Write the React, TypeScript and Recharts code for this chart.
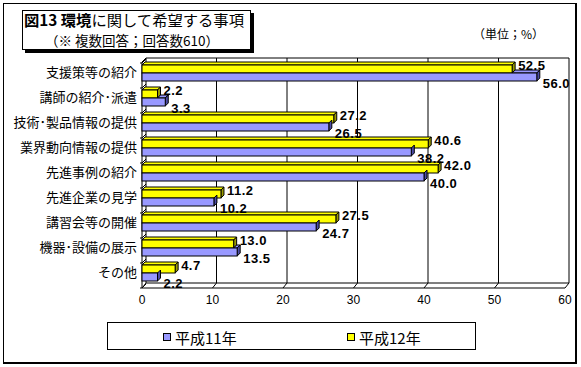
import React from 'react';
import { BarChart, Bar, XAxis, YAxis, CartesianGrid, ReferenceArea, LabelList } from 'recharts';

const categories = [
  '支援策等の紹介',
  '講師の紹介･派遣',
  '技術･製品情報の提供',
  '業界動向情報の提供',
  '先進事例の紹介',
  '先進企業の見学',
  '講習会等の開催',
  '機器･設備の展示',
  'その他',
];
const h11Values = [56.0, 3.3, 26.5, 38.2, 40.0, 10.2, 24.7, 13.5, 2.2];
const h12Values = [52.5, 2.2, 27.2, 40.6, 42.0, 11.2, 27.5, 13.0, 4.7];
const xTicks = [0, 10, 20, 30, 40, 50, 60];
const seriesNames = ['平成11年', '平成12年'];
const titleBold = '図13 環境';
const titleRest = 'に関して希望する事項';
const subtitle = '（※ 複数回答；回答数610）';
const unitText = '（単位；%）';

const rows = categories.map((name, i) => ({ name, h11: h11Values[i], h12: h12Values[i] }));

const BLUE = '#9999FF';
const BLUE_SIDE = '#4C4CA6';
const YEL = '#FFFF00';
const YEL_SIDE = '#9C9C00';
const D = 3; // bar depth
const WX = 4; // wall depth x
const WY = 5; // wall depth y
const JP = '"Noto Sans CJK JP", "Noto Sans", sans-serif';
const NUM = '"Liberation Sans", Arial, sans-serif';

function bar3d(p: any, fill: string, side: string, topFrom: number) {
  const { x, y, width, height } = p;
  if (width == null || width <= 0) return <g />;
  const w = width;
  const h = height;
  const tf = Math.min(Math.max(topFrom, 0), w);
  return (
    <g>
      {tf < w && (
        <polygon
          points={`${x + tf},${y} ${x + tf + D},${y - D} ${x + w + D},${y - D} ${x + w},${y}`}
          fill={fill}
          stroke="#000"
          strokeWidth={1}
        />
      )}
      <polygon
        points={`${x + w},${y} ${x + w + D},${y - D} ${x + w + D},${y + h - D} ${x + w},${y + h}`}
        fill={side}
        stroke="#000"
        strokeWidth={1}
      />
      <rect x={x} y={y} width={w} height={h} fill={fill} stroke="#000" strokeWidth={1} />
    </g>
  );
}

const YellowShape = (p: any) => bar3d(p, YEL, YEL_SIDE, 0);
const BlueShape = (p: any) => {
  const pl = p.payload || {};
  const wy = pl.h11 > 0 ? (p.width * pl.h12) / pl.h11 : 0;
  return bar3d(p, BLUE, BLUE_SIDE, wy);
};

const makeLabel = (dyOff: number) => (p: any) => {
  const vb = p.viewBox && p.viewBox.width != null ? p.viewBox : p;
  const { x, y, width, height } = vb;
  const v = Number(p.value);
  return (
    <text
      x={x + width + D + 3}
      y={y + height / 2 + dyOff}
      dominantBaseline="central"
      fontFamily={NUM}
      fontWeight="bold"
      fontSize={13}
      letterSpacing={0.5}
      fill="#000"
    >
      {v.toFixed(1)}
    </text>
  );
};

const gridLine = (p: any) => {
  const { x1, y1, y2, index } = p;
  return (
    <g key={`g-${index}`}>
      <line x1={x1 + WX} y1={y1 - 2} x2={x1 + WX} y2={y2 - 2} stroke="#000" strokeWidth={1} />
      <line x1={x1 + WX} y1={y2 - 2} x2={x1} y2={y2 + WY - 2} stroke="#000" strokeWidth={1} />
    </g>
  );
};

const BoxShape = (p: any) => {
  const { x, y, width, height } = p;
  const n = categories.length;
  const marks = [];
  for (let k = 0; k <= n; k++) {
    const yb = y + (height * k) / n;
    marks.push(
      <g key={k}>
        <line x1={x - 2} y1={yb + 3} x2={x} y2={yb + 3} stroke="#000" />
        <line x1={x} y1={yb + 3} x2={x + WX} y2={yb - 1} stroke="#000" />
      </g>
    );
  }
  return (
    <g>
      <line x1={x + WX} y1={y - 2} x2={x + width + WX} y2={y - 2} stroke="#000" />
      <line x1={x + WX} y1={y + height - 2} x2={x + width + WX} y2={y + height - 2} stroke="#000" />
      <line x1={x} y1={y + height + 3} x2={x + width} y2={y + height + 3} stroke="#000" />
      <line x1={x} y1={y + 2} x2={x} y2={y + height + 3} stroke="#000" />
      <line x1={x} y1={y + 2} x2={x + WX} y2={y - 2} stroke="#000" />
      {marks}
    </g>
  );
};

const legendItems = [
  { name: seriesNames[0], color: BLUE, x: 163 },
  { name: seriesNames[1], color: YEL, x: 347 },
];

export default function App() {
  return (
    <div style={{ position: 'absolute', left: 0, top: 0, width: 581, height: 367, background: '#fff' }}>
      <div style={{ position: 'absolute', left: 0, top: 0 }}>
        <BarChart
          layout="vertical"
          width={581}
          height={367}
          data={rows}
          margin={{ top: 60, right: 16, bottom: 52, left: 0 }}
          barCategoryGap={5}
          barGap={0}
        >
          <CartesianGrid horizontal={false} vertical={gridLine} />
          <XAxis
            type="number"
            domain={[0, 60]}
            ticks={xTicks}
            axisLine={false}
            tickLine={false}
            height={30}
            tickMargin={4}
            interval={0}
            tick={{ fontSize: 12, fontFamily: NUM, fill: '#000' }}
          />
          <YAxis
            type="category"
            dataKey="name"
            width={142}
            axisLine={false}
            tickLine={false}
            tickSize={0}
            tickMargin={5}
            interval={0}
            tick={{ fontSize: 13, fontFamily: JP, fill: '#000' }}
          />
          <ReferenceArea x1={0} x2={60} shape={BoxShape} fill="none" stroke="none" />
          <Bar dataKey="h12" name={seriesNames[1]} shape={YellowShape} isAnimationActive={false}>
            <LabelList dataKey="h12" content={makeLabel(-4)} />
          </Bar>
          <Bar dataKey="h11" name={seriesNames[0]} shape={BlueShape} isAnimationActive={false}>
            <LabelList dataKey="h11" content={makeLabel(6)} />
          </Bar>
        </BarChart>
      </div>
      <svg
        width={581}
        height={367}
        style={{ position: 'absolute', left: 0, top: 0, pointerEvents: 'none' }}
      >
        <rect x={3.5} y={3.5} width={572} height={359} fill="none" stroke="#000" strokeWidth={1} />
        <line x1={576.5} y1={3} x2={576.5} y2={364} stroke="#000" />
        <line x1={3} y1={363.5} x2={577} y2={363.5} stroke="#000" />
        <rect x={25} y={13} width={229} height={40} fill="#000" />
        <rect x={22.5} y={10.5} width={228} height={39} fill="#fff" stroke="#000" />
        <text x={24} y={19} dominantBaseline="central" fontFamily={JP} fontSize={15.3} fill="#000">
          <tspan fontWeight="bold">{titleBold}</tspan>
          <tspan>{titleRest}</tspan>
        </text>
        <text x={45} y={40} dominantBaseline="central" fontFamily={JP} fontSize={13.5} fill="#000">
          {subtitle}
        </text>
        <text x={473} y={33} dominantBaseline="central" fontFamily={JP} fontSize={12} fill="#000">
          {unitText}
        </text>
        <rect x={107.5} y={322.5} width={368} height={27} fill="#fff" stroke="#000" />
        {legendItems.map((it) => (
          <g key={it.name}>
            <rect x={it.x + 0.5} y={333.5} width={7} height={7} fill={it.color} stroke="#000" />
            <text
              x={it.x + 12}
              y={337}
              dominantBaseline="central"
              fontFamily={JP}
              fontSize={15}
              fill="#000"
            >
              {it.name}
            </text>
          </g>
        ))}
      </svg>
    </div>
  );
}
